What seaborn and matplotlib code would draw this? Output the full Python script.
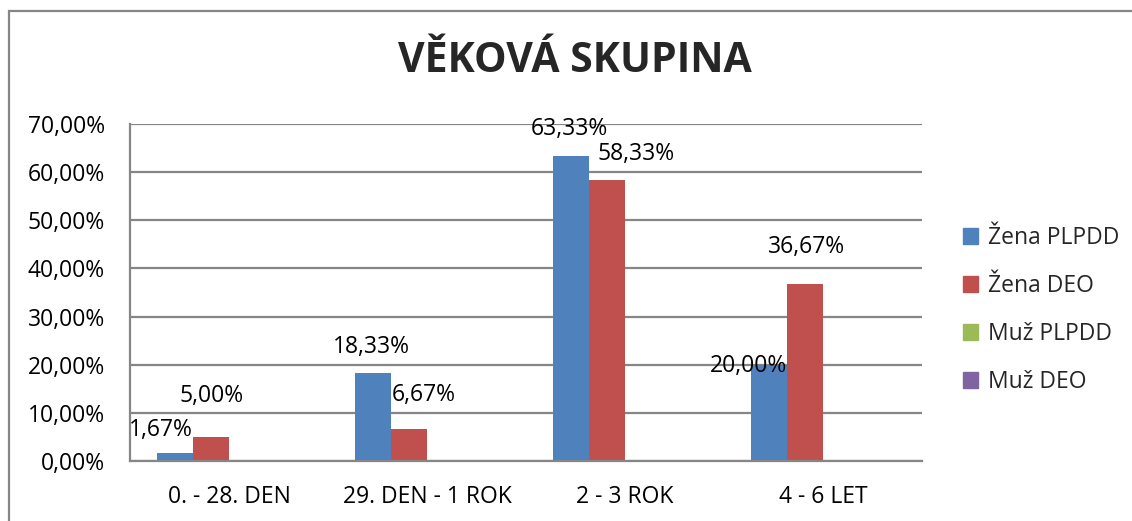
import numpy as np
import pandas as pd
import matplotlib
matplotlib.use("Agg")
import matplotlib.pyplot as plt
import matplotlib.ticker as mticker
from matplotlib.patches import Rectangle
import seaborn as sns

# data
categories = ["0. - 28. DEN", "29. DEN - 1 ROK", "2 - 3 ROK", "4 - 6 LET"]
series = ["Žena PLPDD", "Žena DEO", "Muž PLPDD", "Muž DEO"]
zena_plpdd = [0.0167, 0.1833, 0.6333, 0.2000]
zena_deo = [0.0500, 0.0667, 0.5833, 0.3667]
muz_plpdd = [0.0, 0.0, 0.0, 0.0]
muz_deo = [0.0, 0.0, 0.0, 0.0]
colors = ["#4F81BD", "#C0504D", "#9BBB59", "#8064A2"]

# manual label offsets (pixels) as in the original excel chart
label_offsets = {
    "Žena PLPDD": [(-14, 23), (-2, 26), (-2, 27), (-21, -1)],
    "Žena DEO": [(1, 41), (15, 34), (29, 26), (1, 37)],
}

df = pd.DataFrame({
    "kategorie": categories * 4,
    "serie": np.repeat(series, 4),
    "hodnota": zena_plpdd + zena_deo + muz_plpdd + muz_deo,
})

sns.set_style("white")
plt.rcParams["font.family"] = ["Open Sans", "DejaVu Sans"]
FS = 16.5

fig = plt.figure(figsize=(11.32, 5.21), dpi=100)
ax = fig.add_axes([130 / 1132, 1 - 461 / 521, 792 / 1132, 337 / 521])

sns.barplot(data=df, x="kategorie", y="hodnota", hue="serie", order=categories,
            hue_order=series, palette=colors, width=0.727, gap=0, saturation=1,
            linewidth=0, errorbar=None, ax=ax)

ax.set_ylim(0, 0.7)
ax.set_xlim(-0.5, len(categories) - 0.5)
ax.yaxis.set_major_locator(mticker.MultipleLocator(0.1))
ax.yaxis.set_major_formatter(mticker.FuncFormatter(
    lambda v, p: f"{v * 100:.2f}%".replace(".", ",")))
ax.yaxis.grid(True, color="#868686", linewidth=1.6)
ax.set_axisbelow(True)

# ticks at category boundaries, labels centred
ax.set_xticks(np.arange(-0.5, len(categories) + 0.5, 1))
ax.set_xticklabels([])
ax.set_xticks(np.arange(len(categories)), minor=True)
ax.set_xticklabels(categories, minor=True)
ax.tick_params(axis="x", which="major", length=7, width=1.6, color="#868686", direction="out")
ax.tick_params(axis="x", which="minor", length=0, pad=17, labelsize=FS, labelcolor="black")
ax.tick_params(axis="y", length=7, width=1.6, color="#868686", direction="out", pad=11,
               labelsize=FS, labelcolor="black")

for s in ["top", "right"]:
    ax.spines[s].set_visible(False)
for s in ["left", "bottom"]:
    ax.spines[s].set_color("#868686")
    ax.spines[s].set_linewidth(1.6)

ax.set_xlabel("")
ax.set_ylabel("")

# data labels
for container, name in zip(ax.containers, series):
    if name not in label_offsets:
        continue
    for bar, off in zip(container, label_offsets[name]):
        v = bar.get_height()
        ax.annotate(f"{v * 100:.2f}%".replace(".", ","),
                    (bar.get_x() + bar.get_width() / 2, v),
                    xytext=off, textcoords="offset pixels",
                    ha="center", va="center", fontsize=FS, color="black",
                    annotation_clip=False)

ax.get_legend().remove()
handles = [Rectangle((0, 0), 1, 1, color=c) for c in colors]
fig.legend(handles, series, loc="center left", bbox_to_anchor=(952 / 1132, 1 - 310 / 521),
           frameon=False, fontsize=FS, handlelength=0.65, handleheight=0.65,
           handletextpad=0.4, labelspacing=1.05, borderpad=0)

fig.text(0.508, 1 - 62 / 521, "VĚKOVÁ SKUPINA", ha="center", va="center",
         fontsize=29.5, fontweight="bold")

# outer chart border
fig.patches.append(Rectangle((9 / 1132, -0.1), 1.2, 1.1 - 11 / 521, transform=fig.transFigure,
                             fill=False, edgecolor="#868686", linewidth=1.6))

fig.savefig("out.png", dpi=100)
